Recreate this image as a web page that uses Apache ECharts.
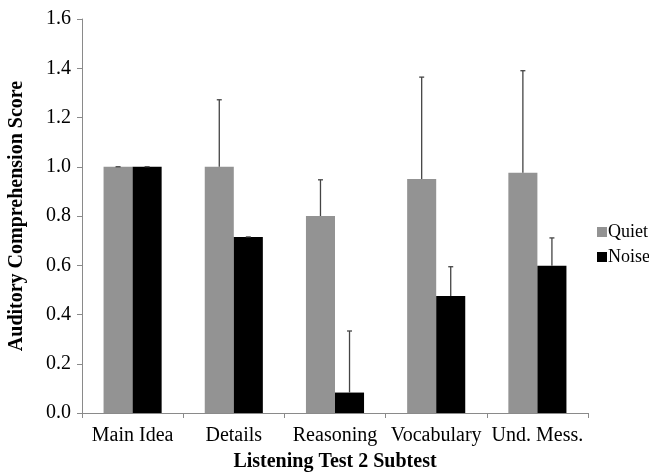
<!DOCTYPE html>
<html><head><meta charset="utf-8">
<script src="https://cdn.jsdelivr.net/npm/echarts@6/dist/echarts.min.js"></script>
<style>html,body{margin:0;padding:0;background:#fff}#c{width:649px;height:474px}</style>
</head><body><div id="c"></div>
<script>
const categories = ['Main Idea', 'Details', 'Reasoning', 'Vocabulary', 'Und. Mess.'];
const quietValues = [1.0, 1.0, 0.80, 0.95, 0.976];
const noiseValues = [1.0, 0.715, 0.083, 0.475, 0.598];
const quietErr = [0.0, 0.272, 0.147, 0.414, 0.414];
const noiseErr = [0.0, 0.0, 0.25, 0.119, 0.113];
const yTicks = [0, 0.2, 0.4, 0.6, 0.8, 1.0, 1.2, 1.4, 1.6];

const FONT = '"Liberation Serif", "DejaVu Serif", serif';
const BW = 0.287;
const chart = echarts.init(document.getElementById('c'));

function errRender(sign, vals, errs) {
  return function (params, api) {
    const i = api.value(0);
    const v = vals[i], e = errs[i];
    const catW = api.size([1, 0])[0];
    const off = sign * catW * BW / 2;
    const p0 = api.coord([i, v]);
    const p1 = api.coord([i, v + e]);
    const x = p0[0] + off;
    const style = { stroke: '#444', lineWidth: 1.3 };
    return {
      type: 'group',
      children: [
        { type: 'line', shape: { x1: x, y1: p0[1], x2: x, y2: p1[1] }, style: style },
        { type: 'line', shape: { x1: x - 2.5, y1: p1[1], x2: x + 2.5, y2: p1[1] }, style: style }
      ]
    };
  };
}

chart.setOption({
  animation: false,
  backgroundColor: '#fff',
  grid: { left: 82, right: 61, top: 19, bottom: 61, containLabel: false, outerBoundsMode: 'none' },
  legend: {
    orient: 'vertical', left: 592, top: 218, itemWidth: 10, itemHeight: 10, itemGap: 7,
    icon: 'rect',
    textStyle: { fontFamily: FONT, fontSize: 18, color: '#000', padding: [0, 0, 0, -4] },
    data: ['Quiet', 'Noise']
  },
  xAxis: {
    type: 'category', data: categories,
    name: 'Listening Test 2 Subtest', nameLocation: 'middle', nameGap: 39,
    nameTextStyle: { fontFamily: FONT, fontSize: 20, fontWeight: 'bold', color: '#000' },
    axisLine: { lineStyle: { color: '#8a8a8a', width: 1 } },
    axisTick: { show: true, interval: 0, length: 5, lineStyle: { color: '#8a8a8a' } },
    axisLabel: { interval: 0, hideOverlap: false, fontFamily: FONT, fontSize: 20, color: '#000', margin: 13 }
  },
  yAxis: {
    type: 'value', min: 0, max: 1.6, interval: 0.2,
    name: 'Auditory Comprehension Score', nameLocation: 'middle', nameGap: 55,
    nameTextStyle: { fontFamily: FONT, fontSize: 20, fontWeight: 'bold', color: '#000' },
    axisLine: { show: true, lineStyle: { color: '#8a8a8a', width: 1 } },
    axisTick: { show: true, length: 5, lineStyle: { color: '#8a8a8a' } },
    splitLine: { show: false },
    axisLabel: { fontFamily: FONT, fontSize: 20, color: '#000', margin: 11,
      formatter: v => yTicks.includes(Math.round(v * 10) / 10) ? v.toFixed(1) : '' }
  },
  series: [
    { name: 'Quiet', type: 'bar', data: quietValues, barWidth: (BW * 100) + '%', barGap: '0%',
      itemStyle: { color: '#939393' } },
    { name: 'Noise', type: 'bar', data: noiseValues, barWidth: (BW * 100) + '%', barGap: '0%',
      itemStyle: { color: '#000000' } },
    { type: 'custom', data: categories.map((c, i) => [i]), renderItem: errRender(-1, quietValues, quietErr), z: 5, silent: true },
    { type: 'custom', data: categories.map((c, i) => [i]), renderItem: errRender(1, noiseValues, noiseErr), z: 5, silent: true }
  ]
});
</script></body></html>
